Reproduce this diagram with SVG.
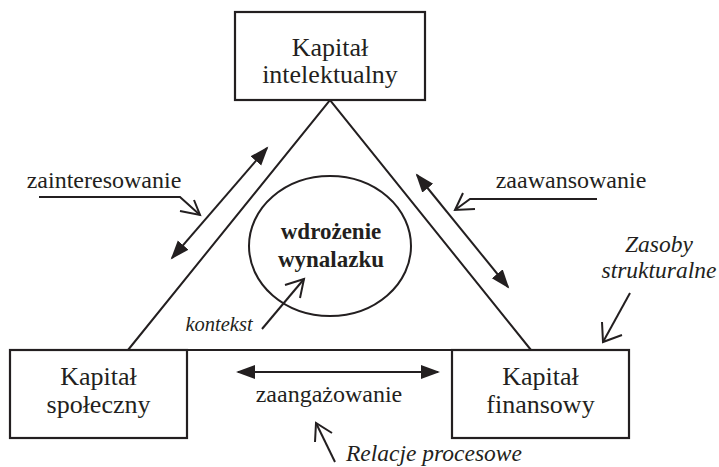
<svg xmlns="http://www.w3.org/2000/svg" width="719" height="467" viewBox="0 0 719 467">
<defs>
<marker id="ah" markerUnits="userSpaceOnUse" markerWidth="20" markerHeight="16" refX="17" refY="7" orient="auto-start-reverse" viewBox="0 0 20 16">
<path d="M0,0 L19,7 L0,14 Z" fill="#231f20"/>
</marker>
<style>
.ln{stroke:#231f20;stroke-width:2;fill:none}
.box{stroke:#231f20;stroke-width:2.2;fill:#fff}
.t{fill:#231f20;text-anchor:middle}
.bt{font-size:26px}
.lb{font-size:24px}
.it{font-style:italic;font-size:23.5px}
.bold{font-weight:bold;font-size:23px}
</style>
</defs>
<rect width="719" height="467" fill="#fff"/>
<g id="connectors">
<polyline class="ln" points="128,350 330,100 531,350"/>
<line class="ln" x1="187" y1="350" x2="452" y2="350"/>
<line class="ln" x1="172" y1="258" x2="267" y2="148" marker-start="url(#ah)" marker-end="url(#ah)"/>
<line class="ln" x1="417" y1="175" x2="508" y2="287" marker-start="url(#ah)" marker-end="url(#ah)"/>
<line class="ln" x1="238" y1="372" x2="438" y2="372" marker-start="url(#ah)" marker-end="url(#ah)"/>
<polyline class="ln" points="39,197 180,197 200,215"/>
<polyline class="ln" points="180,211 200,215 194,200"/>
<polyline class="ln" points="597,199 470,199 455,210"/>
<polyline class="ln" points="463,193 455,210 475,209"/>
<line class="ln" x1="630" y1="293" x2="603" y2="342"/>
<polyline class="ln" points="602,322 603,342 622,335"/>
<line class="ln" x1="262" y1="329" x2="304" y2="279"/>
<polyline class="ln" points="285,285 304,279 300,298"/>
<line class="ln" x1="335" y1="462" x2="316" y2="423"/>
<polyline class="ln" points="315,442 316,423 332,433"/>
</g>
<g font-family="'Liberation Serif', Tinos, 'Nimbus Roman', 'Times New Roman', Times, 'DejaVu Serif', serif">
<g id="node-intelektualny">
<rect class="box" x="235" y="12" width="190" height="88"/>
<text class="t bt" x="330" y="56">Kapitał</text>
<text class="t bt" x="330" y="83">intelektualny</text>
</g>
<g id="node-spoleczny">
<rect class="box" x="10" y="350" width="177" height="88"/>
<text class="t bt" x="98.5" y="385">Kapitał</text>
<text class="t bt" x="98.5" y="413">społeczny</text>
</g>
<g id="node-finansowy">
<rect class="box" x="452" y="350" width="177" height="88"/>
<text class="t bt" x="540.5" y="385">Kapitał</text>
<text class="t bt" x="540.5" y="413">finansowy</text>
</g>
<g id="node-wdrozenie">
<ellipse class="ln" cx="330" cy="246" rx="81" ry="70"/>
<text class="t bold" x="331" y="239">wdrożenie</text>
<text class="t bold" x="331" y="267">wynalazku</text>
</g>
<g id="labels">
<text class="t lb" x="104" y="188">zainteresowanie</text>
<text class="t lb" x="571" y="188">zaawansowanie</text>
<text class="t lb" x="329" y="402">zaangażowanie</text>
<text class="t it" x="659" y="252">Zasoby</text>
<text class="t it" x="659" y="278">strukturalne</text>
<text class="t it" x="219" y="331" style="font-size:20.5px">kontekst</text>
<text class="t it" x="434" y="461">Relacje procesowe</text>
</g>
</g>
</svg>
